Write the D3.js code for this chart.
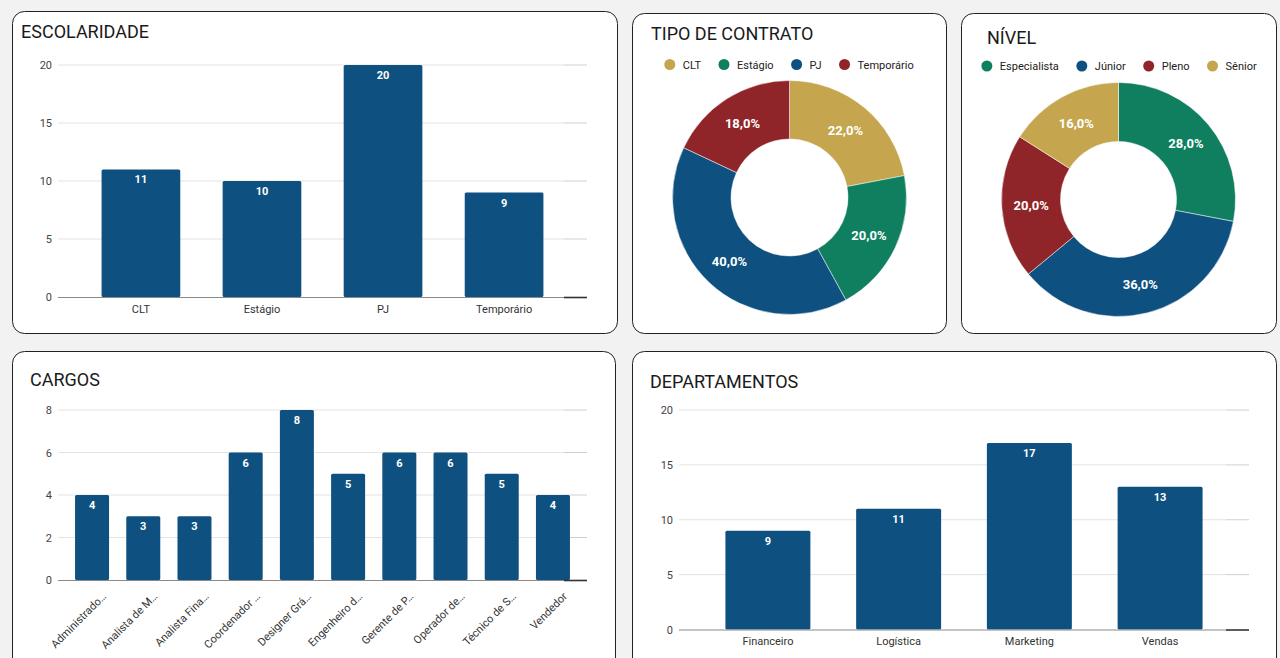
<!DOCTYPE html>
<html><head><meta charset="utf-8">
<script src="https://cdn.jsdelivr.net/npm/d3@7"></script>
<style>
html,body{margin:0;padding:0;background:#f2f2f2;overflow:hidden;}
svg{display:block;font-family:Roboto,"Liberation Sans",Arial,sans-serif;}
</style></head>
<body>
<svg id="c" width="1280" height="658"></svg>
<script>
// ---- data ----
const escCats = ["CLT", "Estágio", "PJ", "Temporário"];
const escVals = [11, 10, 20, 9];
const escTicks = [0, 5, 10, 15, 20];

const contratoCats = ["CLT", "Estágio", "PJ", "Temporário"];
const contratoVals = [22, 20, 40, 18];

const nivelCats = ["Especialista", "Júnior", "Pleno", "Sênior"];
const nivelVals = [28, 36, 20, 16];

const cargoCats = ["Administrado…", "Analista de M…", "Analista Fina…", "Coordenador …", "Designer Grá…",
                   "Engenheiro d…", "Gerente de P…", "Operador de…", "Técnico de S…", "Vendedor"];
const cargoVals = [4, 3, 3, 6, 8, 5, 6, 6, 5, 4];
const cargoTicks = [0, 2, 4, 6, 8];

const deptCats = ["Financeiro", "Logística", "Marketing", "Vendas"];
const deptVals = [9, 11, 17, 13];
const deptTicks = [0, 5, 10, 15, 20];

// ---- styles ----
const BLUE = "#0e5180", GREEN = "#0f7f5f", GOLD = "#c5a64f", RED = "#8f2528";
const contratoColors = [GOLD, GREEN, BLUE, RED];
const nivelColors = [GREEN, BLUE, RED, GOLD];

const svg = d3.select("#c");

function panel(x, y, w, h, title, tx, ty) {
  svg.append("rect").attr("x", x).attr("y", y).attr("width", w).attr("height", h)
    .attr("rx", 12).attr("fill", "#fff").attr("stroke", "#222").attr("stroke-width", 1);
  svg.append("text").attr("x", tx).attr("y", ty).text(title)
    .attr("font-size", 18).attr("fill", "#1a1a1a");
}

function barChart(cats, vals, ticks, x0, x1, yBase, yTop, pi, po, labelY, rotate, tickX) {
  const x = d3.scaleBand().domain(cats).range([x0, x1]).paddingInner(pi).paddingOuter(po);
  const y = d3.scaleLinear().domain([ticks[0], ticks[ticks.length - 1]]).range([yBase, yTop]);
  const g = svg.append("g");
  const segStart = x1 - 23;
  g.selectAll(".grid").data(ticks.slice(1)).join("line")
    .attr("x1", x0).attr("x2", segStart).attr("y1", d => y(d)).attr("y2", d => y(d))
    .attr("stroke", "#e3e3e3").attr("stroke-width", 1);
  g.selectAll(".gridR").data(ticks.slice(1)).join("line")
    .attr("x1", segStart).attr("x2", x1).attr("y1", d => y(d)).attr("y2", d => y(d))
    .attr("stroke", "#cfcfcf").attr("stroke-width", 1);
  const ya = g.append("g").attr("transform", `translate(${tickX},0)`)
    .call(d3.axisLeft(y).tickValues(ticks).tickSize(0).tickPadding(0));
  ya.select(".domain").remove();
  ya.selectAll("text").attr("font-size", 11).attr("fill", "#444")
    .attr("font-family", "Roboto, 'Liberation Sans', Arial, sans-serif");
  g.selectAll(".bar").data(cats).join("rect")
    .attr("x", d => x(d)).attr("width", x.bandwidth())
    .attr("y", (d, i) => y(vals[i])).attr("height", (d, i) => y(0) - y(vals[i]))
    .attr("fill", BLUE).attr("rx", 1.5);
  g.append("line").attr("x1", x0).attr("x2", segStart).attr("y1", y(0) + 0.5).attr("y2", y(0) + 0.5)
    .attr("stroke", "#8a8a8a").attr("stroke-width", 1.2);
  g.append("line").attr("x1", segStart).attr("x2", x1).attr("y1", y(0) + 0.5).attr("y2", y(0) + 0.5)
    .attr("stroke", "#333").attr("stroke-width", 1.6);
  g.selectAll(".val").data(cats).join("text")
    .attr("x", d => x(d) + x.bandwidth() / 2)
    .attr("y", (d, i) => y(vals[i]) + 14)
    .attr("text-anchor", "middle").attr("font-size", 11).attr("font-weight", "bold")
    .attr("fill", "#fff").text((d, i) => vals[i]);
  const xa = g.append("g").attr("transform", `translate(0,${yBase})`)
    .call(d3.axisBottom(x).tickSize(0).tickPadding(0));
  xa.select(".domain").remove();
  const t = xa.selectAll("text").attr("font-size", 11).attr("fill", "#333")
    .attr("font-family", "Roboto, 'Liberation Sans', Arial, sans-serif");
  if (rotate) {
    t.attr("text-anchor", "end").attr("dy", 0).attr("y", 0)
      .attr("transform", "translate(15,17) rotate(-45)");
  } else {
    t.attr("dy", 0).attr("y", labelY);
  }
}

function legend(cats, colors, cx, cy) {
  const g = svg.append("g");
  const items = cats.map(c => ({ c }));
  const tmp = g.append("text").attr("font-size", 11);
  items.forEach(it => { tmp.text(it.c); it.w = tmp.node().getComputedTextLength(); });
  tmp.remove();
  const gap = 17.5, textOff = 13, r = 5.5;
  const total = items.reduce((s, it) => s + textOff + r + it.w, 0) + gap * (items.length - 1);
  let xpos = cx - total / 2;
  items.forEach((it, i) => {
    const ccx = xpos + r;
    g.append("circle").attr("cx", ccx).attr("cy", cy).attr("r", r).attr("fill", colors[i]);
    g.append("text").attr("x", ccx + textOff).attr("y", cy + 4).attr("font-size", 11)
      .attr("fill", "#222").text(it.c);
    xpos = ccx + textOff + it.w + gap;
  });
}

function donut(cats, vals, colors, cx, cy, rOut, rIn) {
  const total = d3.sum(vals);
  const pie = d3.pie().sort(null).value(d => d)(vals);
  const arc = d3.arc().innerRadius(rIn).outerRadius(rOut);
  const g = svg.append("g").attr("transform", `translate(${cx},${cy})`);
  g.selectAll("path").data(pie).join("path").attr("d", arc)
    .attr("fill", (d, i) => colors[i]).attr("stroke", "#fff").attr("stroke-width", 0.5);
  g.selectAll(".lbl").data(pie).join("text")
    .attr("transform", d => `translate(${arc.centroid(d)})`)
    .attr("text-anchor", "middle").attr("dy", "0.36em")
    .attr("font-size", 13).attr("font-weight", "bold").attr("fill", "#fff")
    .text(d => (d.value / total * 100).toFixed(1).replace(".", ",") + "%");
}

// ---- panels ----
panel(12.5, 11.5, 605, 322, "ESCOLARIDADE", 21, 37.5);
barChart(escCats, escVals, escTicks, 58, 587, 297, 65, 0.35, 0.36, 16, false, 52);

panel(632.5, 13.5, 314, 320, "TIPO DE CONTRATO", 651, 39.5);
legend(contratoCats, contratoColors, 789, 64.5);
donut(contratoCats, contratoVals, contratoColors, 789.5, 197.5, 117, 58.5);

panel(961.5, 13.5, 315, 320, "NÍVEL", 987, 43.5);
legend(nivelCats, nivelColors, 1119, 66);
donut(nivelCats, nivelVals, nivelColors, 1118.5, 199.5, 117, 58);

panel(12.5, 351.5, 603, 360, "CARGOS", 30, 385.5);
barChart(cargoCats, cargoVals, cargoTicks, 58, 587, 580, 410, 0.336, 0.333, 0, true, 52);

panel(632.5, 351.5, 644, 360, "DEPARTAMENTOS", 650, 387.5);
barChart(deptCats, deptVals, deptTicks, 679, 1249, 629.5, 410, 0.35, 0.355, 15, false, 673);
</script>
</body></html>
